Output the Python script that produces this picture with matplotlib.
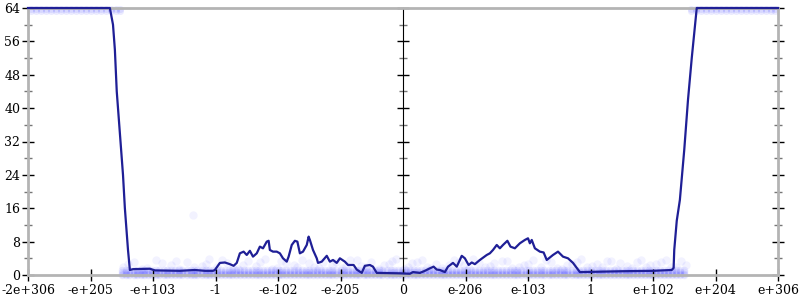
import numpy as np
import matplotlib.pyplot as plt

# x axis is an ordinal scale of float magnitudes, one unit per labelled tick
xlabels = ['-2e+306', '-e+205', '-e+103', '-1', '-e-102', '-e-205', '0',
           'e-206', 'e-103', '1', 'e+102', 'e+204', 'e+306']
yticks = [0, 8, 16, 24, 32, 40, 48, 56, 64]
yminor = [4, 12, 20, 28, 36, 44, 52, 60]

# averaged error line
line_x = [0.0, 1.31, 1.36, 1.39, 1.42, 1.47, 1.52, 1.55, 1.60, 1.63, 1.68, 1.95, 2.03,
          2.43, 2.67, 2.83, 2.96, 2.99, 3.07, 3.15, 3.23, 3.29, 3.34, 3.39, 3.45, 3.50,
          3.55, 3.60, 3.66, 3.71, 3.76, 3.82, 3.85, 3.87, 3.92, 3.98, 4.03, 4.08, 4.14,
          4.17, 4.22, 4.27, 4.31, 4.35, 4.40, 4.46, 4.49, 4.51, 4.56, 4.62, 4.64, 4.70,
          4.78, 4.83, 4.88, 4.94, 4.99, 5.07, 5.12, 5.21, 5.26, 5.34, 5.39, 5.47, 5.52,
          5.58, 5.95, 6.11, 6.16, 6.27, 6.35, 6.43, 6.49, 6.54, 6.59, 6.67, 6.72, 6.80,
          6.86, 6.94, 6.99, 7.05, 7.10, 7.15, 7.23, 7.34, 7.39, 7.44, 7.50, 7.55, 7.60,
          7.67, 7.72, 7.79, 7.87, 7.95, 8.00, 8.03, 8.06, 8.11, 8.19, 8.25, 8.30, 8.40,
          8.48, 8.56, 8.64, 8.72, 8.83, 9.50, 10.00, 10.30, 10.33, 10.34, 10.38, 10.43,
          10.50, 10.56, 10.62, 10.70, 12.0]
line_y = [64, 64, 60, 54, 44, 34, 24, 16, 6, 1.2, 1.4, 1.5, 1.1,
          1.0, 1.2, 1.0, 1.0, 1.2, 2.9, 3.0, 2.6, 2.2, 2.9, 5.2, 5.6, 4.8,
          5.8, 4.4, 5.2, 6.8, 6.4, 8.0, 8.2, 6.0, 5.6, 5.6, 5.2, 4.0, 3.2,
          4.4, 7.2, 8.2, 8.0, 5.2, 5.6, 7.2, 9.2, 8.4, 6.0, 4.0, 2.9, 3.2,
          4.6, 3.2, 3.6, 2.9, 4.0, 3.2, 2.4, 2.4, 1.3, 0.5, 2.2, 2.4, 2.0,
          0.5, 0.4, 0.3, 0.7, 0.5, 1.0, 1.6, 2.0, 1.3, 1.2, 0.7, 2.0, 2.9,
          2.0, 4.6, 4.0, 2.4, 3.0, 2.6, 3.6, 4.8, 5.2, 6.0, 7.2, 6.4, 7.2,
          8.2, 6.8, 6.4, 7.6, 8.4, 8.8, 7.6, 8.4, 6.4, 5.6, 5.4, 3.6, 4.8,
          5.6, 4.4, 4.0, 2.9, 0.7, 0.9, 1.0, 1.2, 1.7, 6, 13, 18,
          30, 42, 52, 64, 64]

# sampled points: dense band near zero
band_x = [1.50, 1.56, 1.62, 1.69, 1.75, 1.80, 1.86, 1.92, 1.98, 2.04, 2.10, 2.17, 2.23,
          2.29, 2.35, 2.41, 2.47, 2.54, 2.60, 2.66, 2.71, 2.78, 2.84, 2.90, 2.96, 3.02,
          3.08, 3.15, 3.21, 3.27, 3.33, 3.39, 3.45, 3.52, 3.58, 3.64, 3.70, 3.76, 3.82,
          3.89, 3.95, 4.01, 4.07, 4.13, 4.19, 4.26, 4.32, 4.38, 4.44, 4.50, 4.56, 4.63,
          4.69, 4.75, 4.81, 4.87, 4.93, 5.00, 5.06, 5.12, 5.18, 5.24, 5.30, 5.37, 5.43,
          5.49, 5.55, 5.61, 5.67, 5.74, 5.80, 5.86, 5.92, 5.98, 6.04, 6.11, 6.17, 6.23,
          6.29, 6.35, 6.41, 6.48, 6.54, 6.60, 6.66, 6.72, 6.78, 6.85, 6.91, 6.97, 7.03,
          7.09, 7.15, 7.22, 7.28, 7.34, 7.40, 7.46, 7.52, 7.59, 7.65, 7.71, 7.77, 7.83,
          7.89, 7.96, 8.02, 8.08, 8.14, 8.20, 8.26, 8.33, 8.39, 8.45, 8.51, 8.57, 8.63,
          8.70, 8.76, 8.82, 8.88, 8.94, 9.00, 9.07, 9.13, 9.19, 9.25, 9.31, 9.37, 9.44,
          9.50, 9.56, 9.62, 9.68, 9.74, 9.81, 9.87, 9.93, 9.99, 10.05, 10.11, 10.18,
          10.24, 10.30, 10.36, 10.43, 10.50]
band_y = [0.0, 0.35, 0.7, 1.1]

# sampled points: sparse cloud above the band
cloud_x = [1.52, 1.70, 1.91, 2.05, 2.28, 2.41, 2.55, 2.78, 2.90, 3.02, 3.18, 3.36, 3.52,
           3.64, 3.79, 3.98, 4.12, 4.25, 4.38, 4.58, 4.72, 4.86, 5.02, 5.15, 5.33, 5.48,
           5.61, 5.77, 5.89, 6.08, 6.22, 6.38, 6.52, 6.63, 6.81, 6.97, 7.12, 7.31, 7.46,
           7.58, 7.74, 7.93, 8.08, 8.21, 8.36, 8.55, 8.70, 8.85, 9.02, 9.18, 9.33, 9.47,
           9.66, 9.81, 9.95, 10.12, 10.28, 10.45,
           1.60, 1.82, 2.15, 2.36, 2.66, 2.84, 3.10, 3.28, 3.44, 3.71, 3.90, 4.05, 4.31,
           4.49, 4.65, 4.93, 5.09, 5.26, 5.41, 5.70, 5.83, 6.01, 6.15, 6.30, 6.45, 6.74,
           6.90, 7.05, 7.21, 7.39, 7.66, 7.85, 8.00, 8.29, 8.47, 8.62, 8.78, 8.95, 9.10,
           9.26, 9.41, 9.58, 9.74, 9.89, 10.04, 10.20, 10.37, 10.52, 2.64]
cloud_y = [2.0, 3.2, 1.6, 3.6, 2.4, 1.4, 3.0, 2.2, 3.8, 1.8, 2.8, 1.5, 3.4,
           2.1, 3.9, 1.7, 2.9, 2.3, 3.5, 1.9, 3.1, 2.5, 1.6, 3.7, 2.2, 3.0,
           1.5, 2.6, 3.8, 1.8, 3.2, 2.0, 2.7, 1.6, 3.5, 2.3, 3.9, 1.9, 2.8,
           3.4, 1.7, 2.4, 3.6, 2.0, 3.1, 1.5, 2.6, 3.8, 2.2, 1.8, 3.3, 2.9,
           1.6, 3.7, 2.4, 3.0, 2.0, 3.4,
           2.7, 1.5, 2.9, 3.3, 1.9, 2.6, 3.5, 1.7, 2.4, 3.0, 1.4, 3.3, 2.0,
           2.8, 1.6, 3.1, 2.2, 3.6, 1.8, 2.5, 3.3, 1.5, 2.8, 3.6, 1.7, 2.4,
           3.2, 1.6, 2.9, 2.1, 3.4, 1.8, 2.7, 3.5, 1.6, 2.3, 3.0, 1.9, 2.6,
           3.4, 1.5, 2.2, 3.1, 1.8, 2.7, 3.6, 2.0, 2.5, 14.4]

# sampled points: saturated at 64
top_x = [0.05, 0.12, 0.20, 0.28, 0.36, 0.44, 0.52, 0.60, 0.68, 0.76, 0.84, 0.92, 1.00,
         1.08, 1.16, 1.24, 1.32, 1.40, 1.47, 10.60, 10.68, 10.76, 10.84, 10.92, 11.00,
         11.08, 11.16, 11.24, 11.32, 11.40, 11.48, 11.56, 11.64, 11.72, 11.80, 11.88,
         11.95]
top_y = [63.3, 63.8]

fig = plt.figure(figsize=(8, 3), dpi=100)
ax = fig.add_axes([28 / 800, 25 / 300, 750 / 800, 267 / 300])

gray = '#b4b4b4'
ax.scatter(np.repeat(band_x, len(band_y)), np.tile(band_y, len(band_x)),
           s=30, color='#0000ff', alpha=0.07, linewidths=0, clip_on=False)
ax.scatter(cloud_x, cloud_y, s=36, color='#0000ff', alpha=0.05, linewidths=0)
ax.scatter(np.repeat(top_x, len(top_y)), np.tile(top_y, len(top_x)),
           s=26, color='#0000ff', alpha=0.08, linewidths=0, clip_on=False)
ax.plot(line_x, line_y, color='#1f1f96', lw=1.6, clip_on=False, zorder=5)

ax.set_xlim(0, len(xlabels) - 1)
ax.set_ylim(0, 64)
ax.set_xticks(range(len(xlabels)))
ax.set_xticklabels(xlabels)
ax.set_yticks(yticks)
ax.set_yticks(yminor, minor=True)

for s in ax.spines.values():
    s.set_color(gray)
    s.set_linewidth(2)

ax.tick_params(axis='both', which='major', direction='inout', length=9, width=1,
               color='black', labelsize=9, labelfontfamily='DejaVu Serif', pad=2)
ax.tick_params(axis='y', which='major', right=True, pad=1)
ax.tick_params(axis='y', which='minor', direction='inout', length=6, width=1,
               color='#777777', right=True)

mid = ax.secondary_yaxis(0.5)
mid.spines['left'].set_color(gray)
mid.spines['left'].set_linewidth(2)
mid.set_yticks(yticks)
mid.set_yticks(yminor, minor=True)
mid.tick_params(which='major', direction='inout', length=9, width=1, color='black',
                labelleft=False, labelright=False)
mid.tick_params(which='minor', direction='inout', length=6, width=1, color='#777777')

fig.savefig('out.png', dpi=100)
